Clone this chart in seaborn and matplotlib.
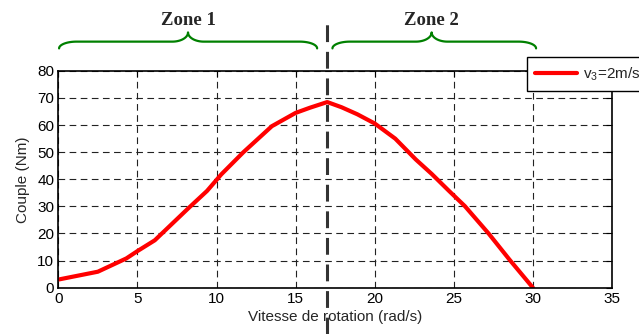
import numpy as np
import pandas as pd
import seaborn as sns
import matplotlib.pyplot as plt

# torque vs rotation speed
speed = [0, 2.5, 4.3, 5, 6.1, 8.2, 9.4, 10.3, 11.7, 13.5, 15, 15.9, 17, 17.9, 18.9, 20,
         21.3, 22.6, 23.6, 24.7, 25.7, 27.2, 28.5, 30]
torque = [3, 5.9, 10.8, 13.5, 17.5, 29.2, 35.7, 41.8, 50, 59.6, 64.5, 66.4, 68.5, 66.6, 64.0, 60.6,
          55, 47.3, 42.0, 35.7, 30.1, 20, 10.5, 0]

zone_labels = ["Zone 1", "Zone 2"]
zone_start = [0.05, 17.33]
zone_end = [16.36, 30.2]
zone_tip = [8.2, 23.6]
split_speed = 17

xticks = [0, 5, 10, 15, 20, 25, 30, 35]
yticks = [0, 10, 20, 30, 40, 50, 60, 70, 80]

df = pd.DataFrame({"speed": speed, "torque": torque})

sns.set_style("white")
plt.rcParams['font.family'] = ['Liberation Sans', 'DejaVu Sans']
plt.rcParams['mathtext.fontset'] = 'custom'
plt.rcParams['mathtext.rm'] = 'Liberation Sans'


def brace(x0, x1, tip, y_low, y_mid, y_top, w_end=1.1, w_tip=1.0, n=30):
    t = np.linspace(0, np.pi / 2, n)
    h1 = y_mid - y_low
    h2 = y_top - y_mid
    # left end curl, then up into the tip
    ax_ = np.concatenate([x0 + w_end - w_end * np.cos(t), tip - w_tip + w_tip * np.sin(t)])
    ay_ = np.concatenate([y_low + h1 * np.sin(t), y_top - h2 * np.cos(t)])
    # from the tip down to the right end
    bx_ = np.concatenate([tip + w_tip * (1 - np.cos(t)), x1 - w_end + w_end * np.sin(t)])
    by_ = np.concatenate([y_mid + h2 * (1 - np.sin(t)), y_mid - h1 * (1 - np.cos(t))])
    return np.concatenate([ax_, bx_]), np.concatenate([ay_, by_])


fig = plt.figure(figsize=(6.39, 3.34), dpi=100)
ax = fig.add_axes([58.3 / 639, 1 - 287.7 / 334, (612 - 58.3) / 639, (287.7 - 70.9) / 334])

ax.grid(True, color="#222222", linestyle=(0, (6, 4)), linewidth=0.8)
ax.set_axisbelow(True)

sns.lineplot(data=df, x="speed", y="torque", ax=ax, color="#ff0000", linewidth=3,
             label=r"$\mathregular{v_3}$=2m/s", legend=False)

ax.set_xlim(0, 35)
ax.set_ylim(0, 80)
ax.set_xticks(xticks)
ax.set_yticks(yticks)
ax.tick_params(direction="in", length=4, width=0.8, labelsize=11, top=True, right=True,
               pad=3, colors="black")
for s in ax.spines.values():
    s.set_color("black")
    s.set_linewidth(1.2)
    s.set_visible(True)

ax.set_xlabel("Vitesse de rotation (rad/s)", fontsize=11, labelpad=3)
ax.set_ylabel("Couple (Nm)", fontsize=11, labelpad=5)

# split line between the two zones
ax.axvline(split_speed, ymin=-0.214, ymax=1.244, clip_on=False, color="#333333",
           linewidth=2.2, linestyle=(0, (5.5, 3.2)), zorder=5)

# zone braces and titles
for lab, a, b, tp in zip(zone_labels, zone_start, zone_end, zone_tip):
    bx, by = brace(a, b, tp, 88.3, 90.8, 94.2)
    ax.plot(bx, by, color="#008000", linewidth=1.6, clip_on=False, solid_capstyle="round")
    ax.text(tp, 96.9, lab, ha="center", va="baseline", fontsize=13.5, fontweight="bold",
            family=["Liberation Serif", "DejaVu Serif"], clip_on=False)

leg = ax.legend(loc="upper left", bbox_to_anchor=(527 / 639, 1 - 56.7 / 334),
                bbox_transform=fig.transFigure, fontsize=11, frameon=True, fancybox=False,
                borderaxespad=0, handlelength=2.7, borderpad=0.55, handletextpad=0.4)
leg.get_frame().set_edgecolor("black")
leg.get_frame().set_linewidth(1.0)
leg.get_frame().set_alpha(1)
leg.set_zorder(10)

plt.savefig("out.png", dpi=100)
